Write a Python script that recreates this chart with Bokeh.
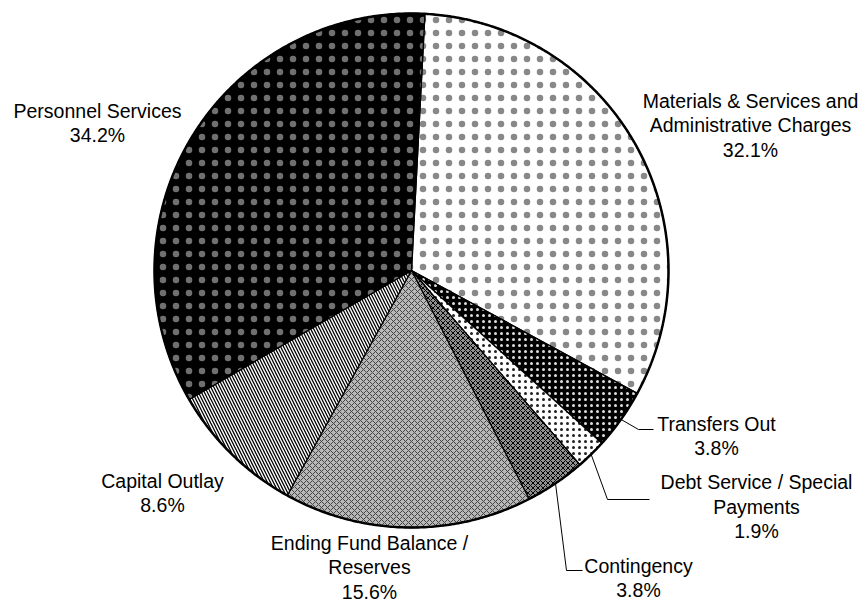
import math
from bokeh.plotting import figure
from bokeh.models import Range1d, ColumnDataSource
from bokeh.core.properties import value
from bokeh.embed import file_html
from bokeh.resources import INLINE

# ---- data ----
categories = ["Materials & Services and Administrative Charges", "Transfers Out",
              "Debt Service / Special Payments", "Contingency",
              "Ending Fund Balance / Reserves", "Capital Outlay", "Personnel Services"]
shares = [32.1, 3.8, 1.9, 3.8, 15.6, 8.6, 34.2]
label_lines = [["Materials & Services and", "Administrative Charges"],
               ["Transfers Out"],
               ["Debt Service / Special", "Payments"],
               ["Contingency"],
               ["Ending Fund Balance /", "Reserves"],
               ["Capital Outlay"],
               ["Personnel Services"]]

# ---- styles / layout ----
fills = ["#ffffff", "#000000", "#ffffff", "#909090", "#b8b8b8", "#ffffff", "#000000"]
hatches = ["dot", "dot", "dot", "diagonal_cross", "diagonal_cross", "left_diagonal_line", "dot"]
hatch_colors = ["#555555", "#dddddd", "#222222", "#000000", "#444444", "#000000", "#bbbbbb"]
hatch_alphas = [0.7, 1.0, 1.0, 1.0, 1.0, 1.0, 0.6]
hatch_scales = [13, 6, 6, 5, 6, 6, 13]
hatch_weights = [0.1, 0.8, 0.8, 1.0, 1.0, 1.3, 0.1]

label_pos = [(750, 100), (716, 423), (756, 481.5), (638, 565), (369, 542), (162, 480), (97, 110)]
# leader lines: bend point and end point (start is on the rim at slice mid-angle)
leaders = {1: [(638, 429), (653, 429)],
           2: [(607, 499), (649, 499)],
           3: [(566, 570), (582, 570)]}

W, H = 859, 602
cx, cy, r = 411, 270, 257
start_deg = 3.0
LINE_H = 24.5
FONT = "19.5px"

p = figure(width=W, height=H, output_backend="svg", toolbar_location=None,
           x_range=Range1d(0, W), y_range=Range1d(H, 0),
           min_border=0, outline_line_color=None)
p.axis.visible = False
p.grid.visible = False
p.background_fill_color = "white"

total = sum(shares)
xs, ys, mids = [], [], []
acc = 0.0
for s in shares:
    a0 = start_deg + 360.0 * acc / total
    a1 = start_deg + 360.0 * (acc + s) / total
    mids.append((a0 + a1) / 2)
    acc += s
    n = max(4, int((a1 - a0) * 3))
    px, py = [cx], [cy]
    for i in range(n + 1):
        t = math.radians(a0 + (a1 - a0) * i / n)
        px.append(cx + r * math.sin(t))
        py.append(cy - r * math.cos(t))
    xs.append(px)
    ys.append(py)

src = ColumnDataSource(dict(xs=xs, ys=ys, fill=fills, hatch=hatches, hc=hatch_colors,
                            ha=hatch_alphas, hs=hatch_scales, hw=hatch_weights,
                            name=categories))
p.patches("xs", "ys", source=src, fill_color="fill", hatch_pattern="hatch",
          hatch_color="hc", hatch_alpha="ha", hatch_scale="hs", hatch_weight="hw",
          line_color="black", line_width=1.3)

# outer rim
ex, ey = [], []
for i in range(721):
    t = math.radians(i / 2)
    ex.append(cx + r * math.sin(t))
    ey.append(cy - r * math.cos(t))
p.line(ex, ey, line_color="black", line_width=2.5)

# leader lines
for k, pts in leaders.items():
    t = math.radians(mids[k])
    lx = [cx + r * math.sin(t)] + [q[0] for q in pts]
    ly = [cy - r * math.cos(t)] + [q[1] for q in pts]
    p.line(lx, ly, line_color="black", line_width=1)

# labels
tx, ty, tt = [], [], []
for i, lines in enumerate(label_lines):
    x0, y0 = label_pos[i]
    allines = lines + [f"{shares[i]:.1f}%"]
    for j, ln in enumerate(allines):
        tx.append(x0)
        ty.append(y0 + j * LINE_H)
        tt.append(ln)
p.text(tx, ty, text=tt, text_align="center", text_baseline="alphabetic",
       text_font=value("Liberation Sans"), text_font_size=FONT, text_color="#000000")

open("out.html", "w").write(file_html(p, INLINE))
